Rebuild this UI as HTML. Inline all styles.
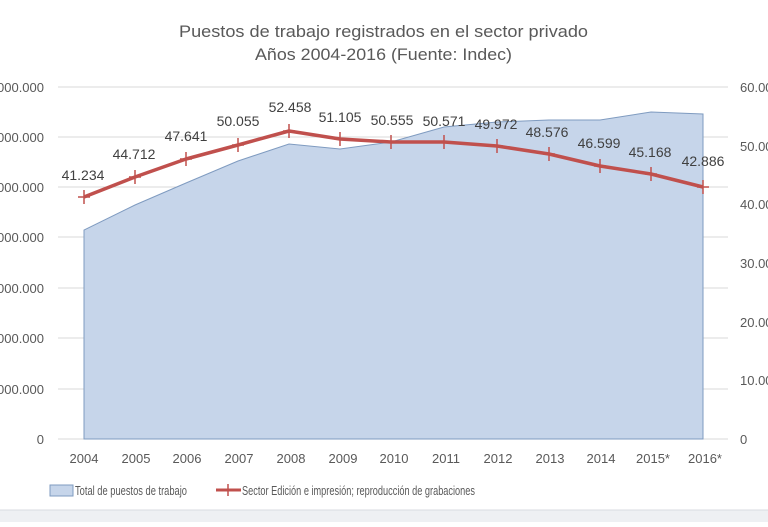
<!DOCTYPE html>
<html><head><meta charset="utf-8"><style>
body{margin:0;background:#fff;}
svg text{font-family:"Liberation Sans",sans-serif;}
</style></head><body>
<svg width="768" height="522" viewBox="0 0 768 522" xmlns="http://www.w3.org/2000/svg">
<rect width="768" height="522" fill="#fff"/>
<rect x="0" y="510" width="768" height="12" fill="#eef0f3"/>
<line x1="0" y1="510" x2="768" y2="510" stroke="#d8dbe0"/>
<text x="179" y="37" font-size="17" fill="#595959" textLength="409" lengthAdjust="spacingAndGlyphs">Puestos de trabajo registrados en el sector privado</text>
<text x="255" y="60" font-size="17" fill="#595959" textLength="257" lengthAdjust="spacingAndGlyphs">Años 2004-2016 (Fuente: Indec)</text>
<g stroke="#d9d9d9" stroke-width="1">
<line x1="58" y1="87" x2="728" y2="87"/><line x1="58" y1="137" x2="728" y2="137"/>
<line x1="58" y1="187" x2="728" y2="187"/><line x1="58" y1="237" x2="728" y2="237"/>
<line x1="58" y1="288" x2="728" y2="288"/><line x1="58" y1="338" x2="728" y2="338"/>
<line x1="58" y1="389" x2="728" y2="389"/><line x1="58" y1="439" x2="728" y2="439"/>
</g>
<polygon points="84,439 84,230 135,205 186,183 238,161 289,144 340,149 391,142 444,127 497,122 549,120 600,120 651,112 703,114 703,439" fill="#c6d5ea" stroke="#7f9bc0" stroke-width="1"/>
<g font-size="13" fill="#595959" text-anchor="end">
<text x="44" y="92">000.000</text><text x="44" y="142">000.000</text>
<text x="44" y="192">000.000</text><text x="44" y="242">000.000</text>
<text x="44" y="293">000.000</text><text x="44" y="343">000.000</text>
<text x="44" y="394">000.000</text><text x="44" y="444">0</text>
</g>
<g font-size="13" fill="#595959" text-anchor="start">
<text x="740" y="92">60.000</text><text x="740" y="151">50.000</text>
<text x="740" y="209">40.000</text><text x="740" y="268">30.000</text>
<text x="740" y="327">20.000</text><text x="740" y="385">10.000</text>
<text x="740" y="444">0</text>
</g>
<g font-size="13" fill="#595959" text-anchor="middle">
<text x="84" y="463">2004</text><text x="136" y="463">2005</text><text x="187" y="463">2006</text>
<text x="239" y="463">2007</text><text x="291" y="463">2008</text><text x="343" y="463">2009</text>
<text x="394" y="463">2010</text><text x="446" y="463">2011</text><text x="498" y="463">2012</text>
<text x="550" y="463">2013</text><text x="601" y="463">2014</text><text x="653" y="463">2015*</text>
<text x="705" y="463">2016*</text>
</g>
<polyline points="84,197 135,177 186,159 238,145 289,131 340,139 391,142 444,142 497,146 549,154 600,166 651,174 703,187" fill="none" stroke="#c0504d" stroke-width="3.5" stroke-linejoin="round"/>
<g stroke="#c0504d" stroke-width="1.5">
<path d="M78,197h12M84,190v14M129,177h12M135,170v14M180,159h12M186,152v14M232,145h12M238,138v14M283,131h12M289,124v14M334,139h12M340,132v14M385,142h12M391,135v14M438,142h12M444,135v14M491,146h12M497,139v14M543,154h12M549,147v14M594,166h12M600,159v14M645,174h12M651,167v14M697,187h12M703,180v14"/>
</g>
<g font-size="14" fill="#404040" text-anchor="middle">
<text x="83" y="180">41.234</text><text x="134" y="159">44.712</text><text x="186" y="141">47.641</text>
<text x="238" y="126">50.055</text><text x="290" y="112">52.458</text><text x="340" y="122">51.105</text>
<text x="392" y="125">50.555</text><text x="444" y="126">50.571</text><text x="496" y="129">49.972</text>
<text x="547" y="137">48.576</text><text x="599" y="148">46.599</text><text x="650" y="157">45.168</text>
<text x="703" y="166">42.886</text>
</g>
<rect x="50" y="485" width="23" height="11" fill="#c6d5ea" stroke="#7f9bc0"/>
<text x="75" y="495" font-size="13" fill="#595959" textLength="112" lengthAdjust="spacingAndGlyphs">Total de puestos de trabajo</text>
<line x1="216" y1="490" x2="241" y2="490" stroke="#c0504d" stroke-width="3"/>
<line x1="228" y1="484" x2="228" y2="496" stroke="#c0504d" stroke-width="1.5"/>
<text x="242" y="495" font-size="13" fill="#595959" textLength="233" lengthAdjust="spacingAndGlyphs">Sector Edición e impresión; reproducción de grabaciones</text>
</svg>
</body></html>
